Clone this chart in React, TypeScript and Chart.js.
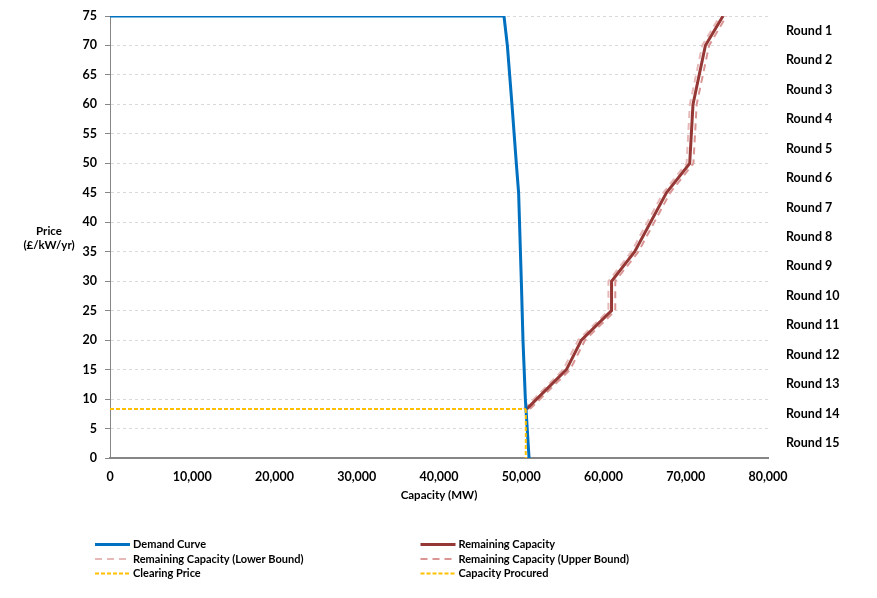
import React, { useEffect, useRef } from 'react';
import { Chart, registerables } from 'chart.js';

Chart.register(...registerables);

const FONT = 'Lato, "Open Sans", sans-serif';

const roundLabels = [
  'Round 1', 'Round 2', 'Round 3', 'Round 4', 'Round 5',
  'Round 6', 'Round 7', 'Round 8', 'Round 9', 'Round 10',
  'Round 11', 'Round 12', 'Round 13', 'Round 14', 'Round 15',
];

const demandCapacity = [0, 47900, 48310, 48870, 49400, 49680, 50010, 50210, 50500, 50950];
const demandPrice = [75, 75, 70, 60, 50, 45, 30, 20, 10, 0];

const remainingPrice = [8.3, 15, 20, 25, 30, 35, 45, 50, 60, 70, 75];
const remainingCapacity = [50650, 55490, 57310, 60980, 60980, 63790, 67650, 70480, 70880, 72390, 74530];
const lowerBoundCapacity = [50300, 55090, 56910, 60600, 60600, 63390, 67250, 70100, 70500, 72000, 74150];
const upperBoundCapacity = [51050, 55940, 57760, 61430, 61430, 64240, 68100, 70930, 71330, 72840, 74950];

const clearingPrice = 8.3;
const capacityProcured = 50550;

const seriesLabels = [
  'Demand Curve',
  'Remaining Capacity',
  'Remaining Capacity (Lower Bound)',
  'Remaining Capacity (Upper Bound)',
  'Clearing Price',
  'Capacity Procured',
];

const toPoints = (xs: number[], ys: number[]) => xs.map((x, i) => ({ x, y: ys[i] }));

const legendPlugin = {
  id: 'customLegend',
  afterDraw(chart: any) {
    const ctx = chart.ctx;
    const colX = [95, 420.5];
    const rowY = [544.5, 559, 573.5];
    chart.data.datasets.forEach((ds: any, i: number) => {
      const x = colX[i % 2];
      const y = rowY[Math.floor(i / 2)];
      ctx.save();
      ctx.strokeStyle = ds.borderColor;
      ctx.lineWidth = ds.borderWidth;
      ctx.setLineDash(ds.borderDash || []);
      ctx.beginPath();
      ctx.moveTo(x, y);
      ctx.lineTo(x + 35, y);
      ctx.stroke();
      ctx.setLineDash([]);
      ctx.fillStyle = '#000';
      ctx.font = 'bold 11px ' + FONT;
      ctx.textBaseline = 'middle';
      ctx.textAlign = 'left';
      ctx.fillText(ds.label, x + 38, y);
      ctx.restore();
    });
  },
};

const yTitlePlugin = {
  id: 'yTitle',
  afterDraw(chart: any) {
    const ctx = chart.ctx;
    ctx.save();
    ctx.fillStyle = '#000';
    ctx.font = 'bold 11.5px ' + FONT;
    ctx.textAlign = 'center';
    ctx.textBaseline = 'middle';
    ctx.fillText('Price', 49, 231);
    ctx.fillText('(£/kW/yr)', 49, 245);
    ctx.restore();
  },
};

export default function App() {
  const canvasRef = useRef<HTMLCanvasElement | null>(null);

  useEffect(() => {
    if (!canvasRef.current) return;
    const chart = new Chart(canvasRef.current, {
      type: 'line',
      data: {
        datasets: [
          {
            label: seriesLabels[0],
            data: toPoints(demandCapacity, demandPrice),
            borderColor: '#0070C0',
            borderWidth: 3,
            pointRadius: 0,
            xAxisID: 'x',
            yAxisID: 'y',
          },
          {
            label: seriesLabels[1],
            data: toPoints(remainingCapacity, remainingPrice),
            borderColor: '#953735',
            borderWidth: 3,
            pointRadius: 0,
            xAxisID: 'x',
            yAxisID: 'y',
          },
          {
            label: seriesLabels[2],
            data: toPoints(lowerBoundCapacity, remainingPrice),
            borderColor: '#E6B9B8',
            borderWidth: 2,
            borderDash: [7, 5],
            pointRadius: 0,
            xAxisID: 'x',
            yAxisID: 'y',
          },
          {
            label: seriesLabels[3],
            data: toPoints(upperBoundCapacity, remainingPrice),
            borderColor: '#D99694',
            borderWidth: 2,
            borderDash: [7, 5],
            pointRadius: 0,
            xAxisID: 'x',
            yAxisID: 'y',
          },
          {
            label: seriesLabels[4],
            data: [
              { x: 0, y: clearingPrice },
              { x: capacityProcured, y: clearingPrice },
            ],
            borderColor: '#FFC000',
            borderWidth: 2,
            borderDash: [4, 2],
            pointRadius: 0,
            order: -1,
            xAxisID: 'x',
            yAxisID: 'y',
          },
          {
            label: seriesLabels[5],
            data: [
              { x: capacityProcured, y: clearingPrice },
              { x: capacityProcured, y: 0 },
            ],
            borderColor: '#FFC000',
            borderWidth: 2,
            borderDash: [4, 2],
            pointRadius: 0,
            order: -1,
            xAxisID: 'x',
            yAxisID: 'y',
          },
        ],
      },
      options: {
        animation: false,
        responsive: true,
        maintainAspectRatio: false,
        layout: { padding: { top: 16, bottom: 95, left: 0, right: 0 } },
        plugins: {
          legend: { display: false },
          tooltip: { enabled: false },
        },
        elements: { line: { tension: 0 } },
        scales: {
          x: {
            type: 'linear',
            position: 'bottom',
            min: 0,
            max: 80000,
            afterFit: (s: any) => { s.height = 45; },
            ticks: {
              stepSize: 10000,
              padding: 11,
              color: '#000',
              font: { family: FONT, size: 12.5, weight: 'bold' },
              callback: (v: any) => Number(v).toLocaleString('en-US'),
            },
            grid: { display: false, drawTicks: false },
            border: { display: true, color: '#868686', width: 2 },
            title: {
              display: true,
              text: 'Capacity (MW)',
              color: '#000',
              font: { family: FONT, size: 11.5, weight: 'bold' },
              padding: { top: 0, bottom: 1 },
            },
          },
          y: {
            type: 'linear',
            position: 'left',
            min: 0,
            max: 75,
            afterFit: (s: any) => { s.width = 110; },
            ticks: {
              stepSize: 5,
              padding: 8,
              color: '#000',
              font: { family: FONT, size: 12.5, weight: 'bold' },
            },
            grid: {
              display: true,
              color: '#D9D9D9',
              lineWidth: 1,
              drawTicks: true,
              tickLength: 5,
              tickColor: '#868686',
            },
            border: { display: true, color: '#868686', width: 1, dash: [3, 3] },
          },
          rounds: {
            type: 'category',
            position: 'right',
            labels: roundLabels,
            offset: true,
            afterFit: (s: any) => { s.width = 109; },
            ticks: {
              autoSkip: false,
              padding: 0,
              color: '#000',
              font: { family: FONT, size: 12.5, weight: 'bold' },
            },
            grid: { display: false, drawTicks: true, tickLength: 18 },
            border: { display: false },
          },
        },
      } as any,
      plugins: [legendPlugin, yTitlePlugin],
    });
    return () => chart.destroy();
  }, []);

  return (
    <div style={{ position: 'fixed', left: 0, top: 0, width: 877, height: 598, background: '#fff' }}>
      <canvas ref={canvasRef} />
    </div>
  );
}
